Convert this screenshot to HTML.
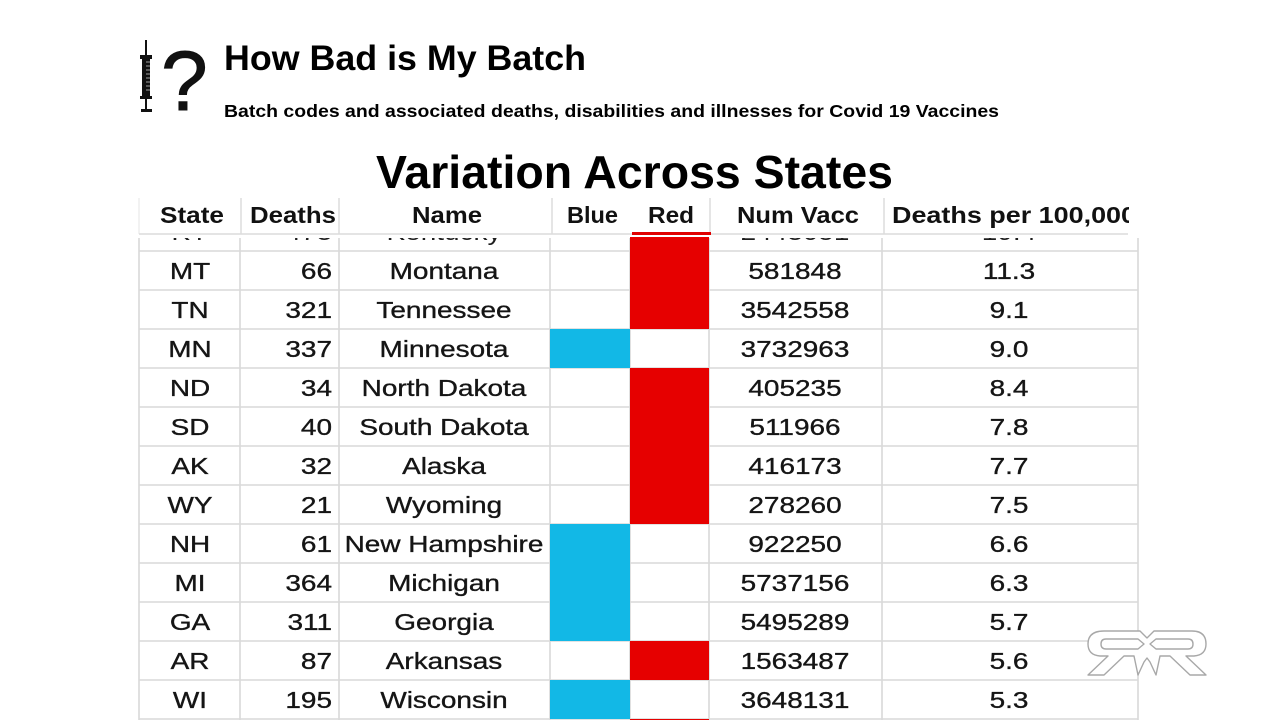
<!DOCTYPE html>
<html>
<head>
<meta charset="utf-8">
<style>
  html, body { margin: 0; padding: 0; background: #ffffff; }
  svg { display: block; }
</style>
</head>
<body>
<svg width="1280" height="720" viewBox="0 0 1280 720" xmlns="http://www.w3.org/2000/svg">
  <defs>
    <clipPath id="cutrow"><rect x="130" y="238" width="1020" height="13"/></clipPath>
    <clipPath id="hdrclip"><rect x="130" y="190" width="999" height="50"/></clipPath>
  </defs>
  <rect x="0" y="0" width="1280" height="720" fill="#ffffff"/>

  <!-- Syringe icon -->
  <g fill="#111" stroke="none">
    <rect x="145" y="40" width="2" height="16"/>
    <rect x="140" y="55" width="12" height="4"/>
    <rect x="142" y="58" width="8" height="39"/>
    <rect x="140" y="96" width="12" height="3"/>
    <rect x="145" y="98" width="2" height="12"/>
    <rect x="141" y="109" width="11" height="3"/>
  </g>
  <g stroke="#fff" stroke-width="0.6">
    <line x1="146" y1="62" x2="150" y2="62"/><line x1="146" y1="66" x2="150" y2="66"/>
    <line x1="146" y1="70" x2="150" y2="70"/><line x1="146" y1="74" x2="150" y2="74"/>
    <line x1="146" y1="78" x2="150" y2="78"/><line x1="146" y1="82" x2="150" y2="82"/>
    <line x1="146" y1="86" x2="150" y2="86"/><line x1="146" y1="90" x2="150" y2="90"/>
  </g>
  <text x="161" y="110" font-family="Liberation Sans, Arial, sans-serif" font-size="84" fill="#111" stroke="#111" stroke-width="1">?</text>

  <!-- Header texts -->
  <text x="224" y="70" font-family="Liberation Sans, Arial, sans-serif" font-weight="bold" font-size="35" fill="#000" textLength="362" lengthAdjust="spacingAndGlyphs">How Bad is My Batch</text>
  <text x="224" y="117" font-family="Liberation Sans, Arial, sans-serif" font-weight="bold" font-size="17.5" fill="#000" textLength="775" lengthAdjust="spacingAndGlyphs">Batch codes and associated deaths, disabilities and illnesses for Covid 19 Vaccines</text>
  <text x="376" y="188" font-family="Liberation Sans, Arial, sans-serif" font-weight="bold" font-size="46" fill="#000" textLength="517" lengthAdjust="spacingAndGlyphs">Variation Across States</text>

  <!-- Table header separators -->
  <g stroke="#dcdcdc" stroke-width="1.5">
    <line x1="139" y1="198" x2="139" y2="234" stroke="#eeeeee"/>
    <line x1="241" y1="198" x2="241" y2="234"/>
    <line x1="339" y1="198" x2="339" y2="234"/>
    <line x1="552" y1="198" x2="552" y2="234"/>
    <line x1="710" y1="198" x2="710" y2="234"/>
    <line x1="884" y1="198" x2="884" y2="234"/>
    <line x1="139" y1="234" x2="1128" y2="234"/>
  </g>
  <rect x="632" y="232" width="79" height="3" fill="#e00000"/>

  <g clip-path="url(#hdrclip)" font-family="Liberation Sans, Arial, sans-serif" font-weight="bold" font-size="23" fill="#111">
    <text x="160" y="223" textLength="64" lengthAdjust="spacingAndGlyphs">State</text>
    <text x="250" y="223" textLength="86" lengthAdjust="spacingAndGlyphs">Deaths</text>
    <text x="412" y="223" textLength="70" lengthAdjust="spacingAndGlyphs">Name</text>
    <text x="567" y="223" textLength="51" lengthAdjust="spacingAndGlyphs">Blue</text>
    <text x="648" y="223" textLength="46" lengthAdjust="spacingAndGlyphs">Red</text>
    <text x="737" y="223" textLength="122" lengthAdjust="spacingAndGlyphs">Num Vacc</text>
    <text x="892" y="223" textLength="244" lengthAdjust="spacingAndGlyphs">Deaths per 100,000</text>
  </g>

  <!-- Body grid -->
  <g stroke="#d9d9d9" stroke-width="1.6">
    <line x1="139" y1="238" x2="139" y2="720"/>
    <line x1="240" y1="238" x2="240" y2="720"/>
    <line x1="339" y1="238" x2="339" y2="720"/>
    <line x1="550" y1="238" x2="550" y2="720"/>
    <line x1="630" y1="238" x2="630" y2="720"/>
    <line x1="709" y1="238" x2="709" y2="720"/>
    <line x1="882" y1="238" x2="882" y2="720"/>
    <line x1="1138" y1="238" x2="1138" y2="720"/>
    <line x1="139" y1="251" x2="1138" y2="251"/>
    <line x1="139" y1="290" x2="1138" y2="290"/>
    <line x1="139" y1="329" x2="1138" y2="329"/>
    <line x1="139" y1="368" x2="1138" y2="368"/>
    <line x1="139" y1="407" x2="1138" y2="407"/>
    <line x1="139" y1="446" x2="1138" y2="446"/>
    <line x1="139" y1="485" x2="1138" y2="485"/>
    <line x1="139" y1="524" x2="1138" y2="524"/>
    <line x1="139" y1="563" x2="1138" y2="563"/>
    <line x1="139" y1="602" x2="1138" y2="602"/>
    <line x1="139" y1="641" x2="1138" y2="641"/>
    <line x1="139" y1="680" x2="1138" y2="680"/>
    <line x1="139" y1="719" x2="1138" y2="719"/>
  </g>

  <!-- Colored cells -->
  <g fill="#e60000">
    <rect x="630" y="237" width="79" height="92"/>
    <rect x="630" y="368" width="79" height="156"/>
    <rect x="630" y="641" width="79" height="39"/>
    <rect x="630" y="719" width="79" height="2"/>
  </g>
  <g fill="#12b8e6">
    <rect x="550" y="329" width="80" height="39"/>
    <rect x="550" y="524" width="80" height="117"/>
    <rect x="550" y="680" width="80" height="39"/>
  </g>

  <!-- Cut row (partially visible) -->
  <g clip-path="url(#cutrow)" font-family="Liberation Sans, Arial, sans-serif" font-size="23.5" fill="#1e1e1e">
    <text transform="translate(190,240) scale(1.19,1)" text-anchor="middle">KY</text>
    <text transform="translate(332,240) scale(1.19,1)" text-anchor="end">473</text>
    <text transform="translate(444,240) scale(1.19,1)" text-anchor="middle">Kentucky</text>
    <text transform="translate(795,240) scale(1.19,1)" text-anchor="middle">2443051</text>
    <text transform="translate(1009,240) scale(1.19,1)" text-anchor="middle">19.4</text>
  </g>

  <!-- Body rows -->
  <g font-family="Liberation Sans, Arial, sans-serif" font-size="23.5" fill="#151515" stroke="#151515" stroke-width="0.35">
    <text transform="translate(190,279) scale(1.19,1)" text-anchor="middle">MT</text>
    <text transform="translate(332,279) scale(1.19,1)" text-anchor="end">66</text>
    <text transform="translate(444,279) scale(1.19,1)" text-anchor="middle">Montana</text>
    <text transform="translate(795,279) scale(1.19,1)" text-anchor="middle">581848</text>
    <text transform="translate(1009,279) scale(1.19,1)" text-anchor="middle">11.3</text>

    <text transform="translate(190,318) scale(1.19,1)" text-anchor="middle">TN</text>
    <text transform="translate(332,318) scale(1.19,1)" text-anchor="end">321</text>
    <text transform="translate(444,318) scale(1.19,1)" text-anchor="middle">Tennessee</text>
    <text transform="translate(795,318) scale(1.19,1)" text-anchor="middle">3542558</text>
    <text transform="translate(1009,318) scale(1.19,1)" text-anchor="middle">9.1</text>

    <text transform="translate(190,357) scale(1.19,1)" text-anchor="middle">MN</text>
    <text transform="translate(332,357) scale(1.19,1)" text-anchor="end">337</text>
    <text transform="translate(444,357) scale(1.19,1)" text-anchor="middle">Minnesota</text>
    <text transform="translate(795,357) scale(1.19,1)" text-anchor="middle">3732963</text>
    <text transform="translate(1009,357) scale(1.19,1)" text-anchor="middle">9.0</text>

    <text transform="translate(190,396) scale(1.19,1)" text-anchor="middle">ND</text>
    <text transform="translate(332,396) scale(1.19,1)" text-anchor="end">34</text>
    <text transform="translate(444,396) scale(1.19,1)" text-anchor="middle">North Dakota</text>
    <text transform="translate(795,396) scale(1.19,1)" text-anchor="middle">405235</text>
    <text transform="translate(1009,396) scale(1.19,1)" text-anchor="middle">8.4</text>

    <text transform="translate(190,435) scale(1.19,1)" text-anchor="middle">SD</text>
    <text transform="translate(332,435) scale(1.19,1)" text-anchor="end">40</text>
    <text transform="translate(444,435) scale(1.19,1)" text-anchor="middle">South Dakota</text>
    <text transform="translate(795,435) scale(1.19,1)" text-anchor="middle">511966</text>
    <text transform="translate(1009,435) scale(1.19,1)" text-anchor="middle">7.8</text>

    <text transform="translate(190,474) scale(1.19,1)" text-anchor="middle">AK</text>
    <text transform="translate(332,474) scale(1.19,1)" text-anchor="end">32</text>
    <text transform="translate(444,474) scale(1.19,1)" text-anchor="middle">Alaska</text>
    <text transform="translate(795,474) scale(1.19,1)" text-anchor="middle">416173</text>
    <text transform="translate(1009,474) scale(1.19,1)" text-anchor="middle">7.7</text>

    <text transform="translate(190,513) scale(1.19,1)" text-anchor="middle">WY</text>
    <text transform="translate(332,513) scale(1.19,1)" text-anchor="end">21</text>
    <text transform="translate(444,513) scale(1.19,1)" text-anchor="middle">Wyoming</text>
    <text transform="translate(795,513) scale(1.19,1)" text-anchor="middle">278260</text>
    <text transform="translate(1009,513) scale(1.19,1)" text-anchor="middle">7.5</text>

    <text transform="translate(190,552) scale(1.19,1)" text-anchor="middle">NH</text>
    <text transform="translate(332,552) scale(1.19,1)" text-anchor="end">61</text>
    <text transform="translate(444,552) scale(1.19,1)" text-anchor="middle">New Hampshire</text>
    <text transform="translate(795,552) scale(1.19,1)" text-anchor="middle">922250</text>
    <text transform="translate(1009,552) scale(1.19,1)" text-anchor="middle">6.6</text>

    <text transform="translate(190,591) scale(1.19,1)" text-anchor="middle">MI</text>
    <text transform="translate(332,591) scale(1.19,1)" text-anchor="end">364</text>
    <text transform="translate(444,591) scale(1.19,1)" text-anchor="middle">Michigan</text>
    <text transform="translate(795,591) scale(1.19,1)" text-anchor="middle">5737156</text>
    <text transform="translate(1009,591) scale(1.19,1)" text-anchor="middle">6.3</text>

    <text transform="translate(190,630) scale(1.19,1)" text-anchor="middle">GA</text>
    <text transform="translate(332,630) scale(1.19,1)" text-anchor="end">311</text>
    <text transform="translate(444,630) scale(1.19,1)" text-anchor="middle">Georgia</text>
    <text transform="translate(795,630) scale(1.19,1)" text-anchor="middle">5495289</text>
    <text transform="translate(1009,630) scale(1.19,1)" text-anchor="middle">5.7</text>

    <text transform="translate(190,669) scale(1.19,1)" text-anchor="middle">AR</text>
    <text transform="translate(332,669) scale(1.19,1)" text-anchor="end">87</text>
    <text transform="translate(444,669) scale(1.19,1)" text-anchor="middle">Arkansas</text>
    <text transform="translate(795,669) scale(1.19,1)" text-anchor="middle">1563487</text>
    <text transform="translate(1009,669) scale(1.19,1)" text-anchor="middle">5.6</text>

    <text transform="translate(190,708) scale(1.19,1)" text-anchor="middle">WI</text>
    <text transform="translate(332,708) scale(1.19,1)" text-anchor="end">195</text>
    <text transform="translate(444,708) scale(1.19,1)" text-anchor="middle">Wisconsin</text>
    <text transform="translate(795,708) scale(1.19,1)" text-anchor="middle">3648131</text>
    <text transform="translate(1009,708) scale(1.19,1)" text-anchor="middle">5.3</text>
  </g>

  <!-- RR watermark logo -->
  <g fill="#ffffff" stroke="#a8a8a8" stroke-width="1.4" stroke-linejoin="round">
    <path d="M1104,631 L1140,631 L1147,638 L1154,631 L1192,631 Q1206,631 1206,644 Q1206,655 1194,656 L1186,656 L1206,675 L1190,675 L1170,656 L1160,656 L1156,675 L1150,662 L1147,658 L1144,662 L1138,675 L1134,656 L1124,656 L1104,675 L1088,675 L1108,656 L1100,656 Q1088,655 1088,644 Q1088,631 1104,631 Z"/>
    <path d="M1106,639 L1138,639 L1144,644 L1138,649 L1106,649 Q1101,649 1101,644 Q1101,639 1106,639 Z"/>
    <path d="M1156,639 L1188,639 Q1193,639 1193,644 Q1193,649 1188,649 L1156,649 L1150,644 Z"/>
  </g>
</svg>
</body>
</html>
